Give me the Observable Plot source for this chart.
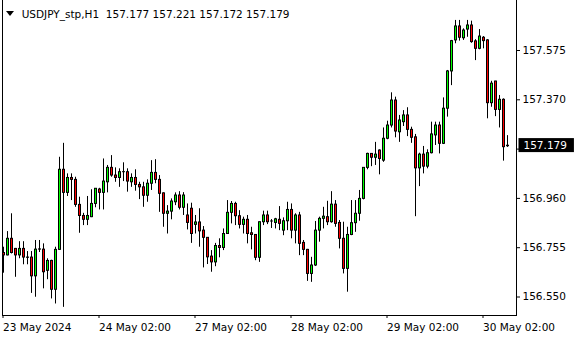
<!DOCTYPE html>
<html><head><meta charset="utf-8">
<script src="https://cdn.jsdelivr.net/npm/d3@7"></script>
<script src="https://cdn.jsdelivr.net/npm/@observablehq/plot@0.6"></script>
<style>
html,body{margin:0;padding:0;background:#fff;}
#wrap{position:relative;width:580px;height:340px;overflow:hidden;background:#fff;}
#title{position:absolute;left:21.7px;top:7.7px;font-family:"DejaVu Sans";font-size:10.5px;line-height:12px;color:#000;white-space:pre;}
#tri{position:absolute;left:6px;top:10.5px;width:0;height:0;border-left:4.5px solid transparent;border-right:4.5px solid transparent;border-top:5px solid #000;}
</style></head>
<body>
<div id="wrap"><div id="chart"></div><div id="tri"></div><div id="title"></div></div>
<script>
const symbol = "USDJPY_stp,H1";
const dateLabels = ["23 May 2024","24 May 02:00","27 May 02:00","28 May 02:00","29 May 02:00","30 May 02:00"];
const dateTickIdx = [0,24,48,72,96,120];
const priceTicks = [156.550,156.755,156.960,157.165,157.370,157.575];

const opens = [
156.733,156.723,156.792,156.750,156.723,156.750,156.714,156.714,156.636,156.747,
156.747,156.659,156.700,156.580,156.746,157.079,156.983,157.045,157.037,156.933,
156.887,156.871,156.882,156.937,156.997,156.983,157.027,157.087,157.055,157.045,
157.069,157.069,157.027,157.045,157.016,157.006,156.971,157.021,157.066,157.037,
156.981,156.896,156.905,156.944,156.972,156.921,156.889,156.917,156.850,156.860,
156.826,156.796,156.718,156.694,156.762,156.754,156.812,156.900,156.937,156.886,
156.850,156.871,156.815,156.808,156.713,156.861,156.889,156.864,156.858,156.871,
156.826,156.865,156.912,156.826,156.889,156.775,156.746,156.646,156.681,156.826,
156.875,156.882,156.861,156.934,156.858,156.792,156.667,156.808,156.857,156.896,
156.958,157.087,157.145,157.129,157.159,157.117,157.208,157.263,157.367,157.235,
157.277,157.305,157.245,157.214,157.085,157.142,157.092,157.148,157.222,157.263,
157.187,157.333,157.488,157.617,157.675,157.626,157.662,157.679,157.613,157.582,
157.628,157.617,157.356,157.446,157.328,157.370,157.177];
const highs = [
156.757,156.822,156.896,156.752,156.780,156.780,156.739,156.739,156.785,156.785,
156.771,156.709,156.703,156.757,157.131,157.189,157.062,157.062,157.048,156.965,
156.898,156.968,156.996,157.001,157.002,157.124,157.097,157.138,157.087,157.083,
157.108,157.083,157.062,157.079,157.027,157.027,157.037,157.117,157.121,157.055,
156.983,156.930,156.958,156.983,156.988,156.984,156.937,156.940,156.889,156.917,
156.843,156.797,156.743,156.773,156.792,156.833,156.951,156.947,156.944,156.909,
156.882,156.889,156.840,156.809,156.862,156.907,156.907,156.872,156.877,156.926,
156.879,156.944,156.937,156.896,156.902,156.785,156.748,156.715,156.864,156.882,
156.923,156.948,156.988,156.951,156.868,156.861,156.840,156.951,156.951,156.993,
157.088,157.148,157.146,157.193,157.162,157.253,157.281,157.399,157.381,157.305,
157.325,157.337,157.256,157.226,157.148,157.176,157.162,157.277,157.277,157.277,
157.378,157.492,157.617,157.700,157.700,157.665,157.700,157.697,157.620,157.662,
157.633,157.620,157.447,157.447,157.388,157.374,157.221];
const lows = [
156.649,156.721,156.729,156.632,156.709,156.684,156.684,156.565,156.549,156.735,
156.584,156.622,156.542,156.521,156.744,156.507,156.968,156.951,156.923,156.815,
156.847,156.847,156.880,156.921,156.912,156.912,156.983,157.048,157.027,157.006,
157.030,156.986,157.006,156.990,156.955,156.923,156.944,156.993,157.021,156.902,
156.840,156.812,156.871,156.930,156.912,156.889,156.829,156.773,156.812,156.757,
156.671,156.685,156.653,156.676,156.713,156.743,156.810,156.854,156.847,156.833,
156.812,156.771,156.746,156.701,156.694,156.847,156.851,156.835,156.833,156.826,
156.805,156.826,156.792,156.771,156.722,156.722,156.615,156.611,156.677,156.778,
156.833,156.847,156.857,156.840,156.750,156.646,156.570,156.805,156.819,156.865,
156.954,157.079,157.092,157.097,157.058,157.110,157.204,157.253,157.212,157.193,
157.259,157.217,157.189,156.884,157.009,157.062,157.083,157.145,157.180,157.145,
157.184,157.298,157.429,157.603,157.614,157.617,157.630,157.605,157.533,157.578,
157.582,157.291,157.339,157.300,157.253,157.115,157.172];
const closes = [
156.723,156.792,156.733,156.723,156.750,156.714,156.713,156.636,156.747,156.748,
156.653,156.700,156.580,156.746,157.079,156.983,157.045,157.037,156.933,156.887,
156.871,156.887,156.937,157.000,156.983,157.030,157.087,157.055,157.045,157.069,
157.069,157.030,157.045,157.016,157.006,156.971,157.021,157.066,157.037,156.979,
156.896,156.905,156.947,156.972,156.921,156.972,156.858,156.812,156.860,156.823,
156.796,156.715,156.694,156.762,156.754,156.812,156.900,156.937,156.886,156.850,
156.871,156.812,156.808,156.713,156.861,156.889,156.861,156.864,156.873,156.854,
156.865,156.912,156.826,156.889,156.771,156.746,156.646,156.681,156.826,156.875,
156.884,156.861,156.934,156.854,156.792,156.667,156.808,156.857,156.896,156.958,
157.087,157.145,157.129,157.142,157.124,157.208,157.263,157.367,157.238,157.284,
157.305,157.245,157.212,157.085,157.142,157.092,157.148,157.226,157.263,157.187,
157.333,157.488,157.614,157.675,157.628,157.658,157.679,157.610,157.582,157.633,
157.614,157.356,157.437,157.328,157.370,157.173,157.179];

const bars = opens.map((o, i) => ({i, o, h: highs[i], l: lows[i], c: closes[i],
  top: Math.max(o, closes[i]), bot: Math.min(o, closes[i])}));
const up = bars.filter(d => d.c >= d.o);
const down = bars.filter(d => d.c < d.o);
const last = bars[bars.length - 1];

const chart = Plot.plot({
  width: 580, height: 340,
  marginLeft: 2, marginRight: 64, marginTop: 0, marginBottom: 25,
  style: {fontFamily: "DejaVu Sans", fontSize: "10.5px", color: "#000", background: "#fff"},
  x: {domain: [0, bars.length - 1], range: [3, 3 + 4 * (bars.length - 1)]},
  y: {domain: [156.4731, 157.7829]},
  marks: [
    Plot.frame({anchor: "left", stroke: "#000"}),
    Plot.frame({anchor: "bottom", stroke: "#000"}),
    Plot.frame({anchor: "right", stroke: "#000"}),
    Plot.axisX({ticks: dateTickIdx, tickFormat: i => dateLabels[dateTickIdx.indexOf(i)], tickSize: 3, tickPadding: 5, textAnchor: "start", dx: -0.5, label: null, fill: "#000"}),
    Plot.axisY({anchor: "right", ticks: priceTicks, tickFormat: d => d.toFixed(3), tickSize: 3, tickPadding: 3, label: null, fill: "#000"}),
    Plot.ruleX(bars, {x: "i", y1: "h", y2: "l", stroke: "#000", strokeWidth: 1}),
    Plot.rect(bars, {x1: "i", x2: "i", y1: "top", y2: "bot", fill: "#000", insetLeft: -1, insetRight: -2, insetTop: -0.5, insetBottom: -0.5}),
    Plot.rect(up, {x1: "i", x2: "i", y1: "top", y2: "bot", fill: "#00ff00", insetLeft: 0, insetRight: -1, insetTop: 0.5, insetBottom: 0.5}),
    Plot.rect(down, {x1: "i", x2: "i", y1: "top", y2: "bot", fill: "#ff0000", insetLeft: 0, insetRight: -1, insetTop: 0.5, insetBottom: 0.5}),
    Plot.text([last], {x: "i", y: "c", text: d => d.c.toFixed(3), fill: "#fff", textAnchor: "start", dx: 16})
  ]
});
document.getElementById("chart").append(chart);

// black box behind the current-price label, in the label's own coordinate system
const g = [...chart.querySelectorAll('g[aria-label="text"]')].pop();
if (g) {
  const t = g.querySelector("text");
  const bb = t.getBBox();
  const r = document.createElementNS("http://www.w3.org/2000/svg", "rect");
  const tr = t.getAttribute("transform");
  if (tr) r.setAttribute("transform", tr);
  const cy = bb.y + bb.height / 2;
  r.setAttribute("x", bb.x - 5);
  r.setAttribute("y", cy - 7);
  r.setAttribute("width", bb.width + 12);
  r.setAttribute("height", 14);
  r.setAttribute("fill", "#000");
  t.parentNode.insertBefore(r, t);
}

document.getElementById("title").textContent =
  symbol + "  " + [last.o, last.h, last.l, last.c].map(v => v.toFixed(3)).join(" ");
</script>
</body></html>
